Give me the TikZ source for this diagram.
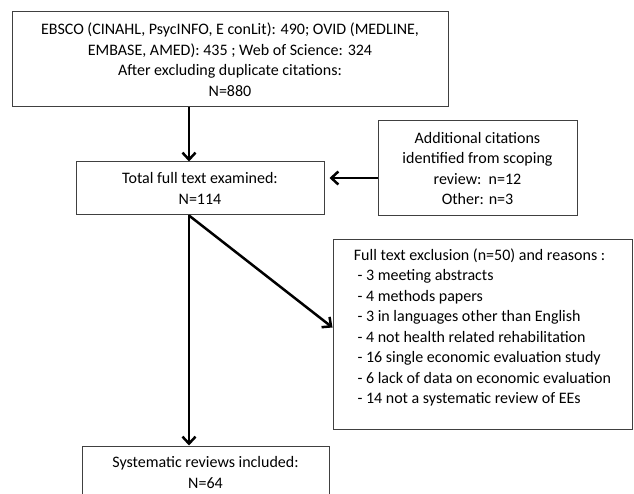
\documentclass[tikz,border=0pt]{standalone}
\usepackage{fontspec}
\setmainfont{Carlito}
\usetikzlibrary{arrows.meta}
\tikzstyle{box} = [draw=black!75, fill=white, rectangle, line width=1pt,
    inner sep=0pt, font=\fontsize{16}{20.5}\selectfont]
\tikzstyle{flow} = [draw, line width=2.5pt,
    -{Straight Barb[length=7pt,width=13pt]}]

\begin{document}
\begin{tikzpicture}[x=1pt, y=-1pt]
    \clip (0,0) rectangle (634,494);
    \node [box, align=center, minimum width=436pt, minimum height=95pt] (search) at (230,59.5)
        {EBSCO (CINAHL, PsycINFO, E\ conLit): 490; OVID (MEDLINE,\\
         EMBASE, AMED): 435\ ; Web of Science: 324\\
         After excluding duplicate citations:\\
         N=880};
    \node [box, align=center, minimum width=248pt, minimum height=53pt] (fulltext) at (200,188.5)
        {Total full text examined:\\ N=114};
    \node [box, align=center, minimum width=199pt, minimum height=95pt] (extra) at (477.5,168.5)
        {Additional citations\\ identified from scoping\\ review:\ \ n=12\\ Other: n=3};
    \node [box, align=left, minimum width=299pt, minimum height=189pt] (excl) at (482.5,334.5)
        {Full text\ exclusion\ (n=50) and reasons :\\
         \ - 3 meeting abstracts\\
         \ - 4 methods papers\\
         \ - 3 in languages other than English\\
         \ - 4 not health related rehabilitation\\
         \ - 16 single economic evaluation study\\
         \ - 6 lack of\ data on economic evaluation\\
         \ - 14\ not a systematic review of EEs\rule[-17pt]{0pt}{0pt}};
    \node [box, align=center, minimum width=247pt, minimum height=53pt] (included) at (205.5,472.5)
        {Systematic reviews included:\\ N=64};
    % connectors
    \coordinate (spine) at (189,0);
    \coordinate (side) at (0,178);
    \draw [flow] (spine |- search.south) -- (spine |- fulltext.north);
    \draw [flow, shorten >=5pt] (extra.west |- side) -- (fulltext.east |- side);
    \draw [flow] (spine |- fulltext.south) -- ([yshift=7pt]excl.west);
    \draw [flow] (spine |- fulltext.south) -- (spine |- included.north);
\end{tikzpicture}
\end{document}
